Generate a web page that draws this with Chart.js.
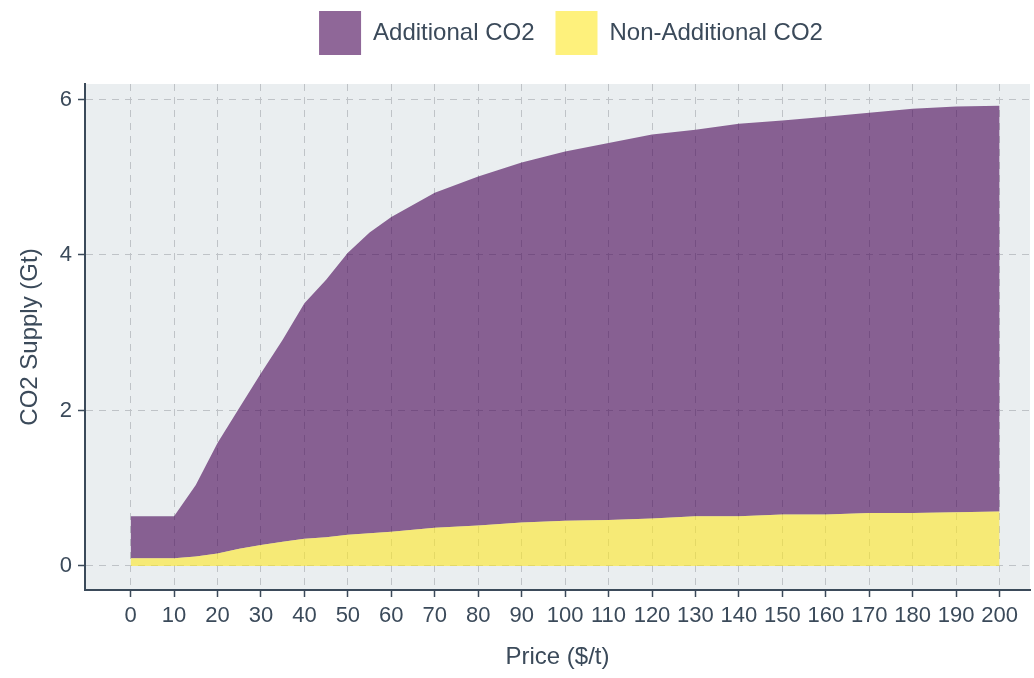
<!DOCTYPE html>
<html>
<head>
<meta charset="utf-8">
<script src="https://cdn.jsdelivr.net/npm/chart.js@4"></script>
<style>
  body { margin: 0; background: #fff; }
  #wrap { width: 1034px; height: 678px; }
</style>
</head>
<body>
<div id="wrap"><canvas id="supplyChart"></canvas></div>
<script>
// Price ($/t) on x, supply (Gt) stacked
const prices = [0, 10, 15, 20, 25, 30, 35, 40, 45, 50, 55, 60, 70, 80, 90, 100, 110, 120, 130, 140, 150, 160, 170, 180, 190, 200];
const nonAdditional = [0.10, 0.10, 0.12, 0.16, 0.22, 0.27, 0.31, 0.35, 0.37, 0.40, 0.42, 0.44, 0.49, 0.52, 0.56, 0.58, 0.59, 0.61, 0.64, 0.64, 0.66, 0.66, 0.68, 0.68, 0.69, 0.70];
const additional = [0.54, 0.54, 0.92, 1.42, 1.81, 2.21, 2.60, 3.03, 3.31, 3.63, 3.87, 4.05, 4.31, 4.49, 4.63, 4.75, 4.85, 4.94, 4.97, 5.05, 5.07, 5.12, 5.15, 5.20, 5.22, 5.22];
const xTicks = [0, 10, 20, 30, 40, 50, 60, 70, 80, 90, 100, 110, 120, 130, 140, 150, 160, 170, 180, 190, 200];
const yTicks = [0, 2, 4, 6];

const axisColor = '#3b4a5a';
const gridColor = '#bfc3c7';

Chart.defaults.font.family = '"Liberation Sans", Arial, sans-serif';
Chart.defaults.color = '#3b4a5a';

// grey panel behind the plot
const panelBg = {
    id: 'panelBg',
    beforeDraw(chart) {
        const a = chart.chartArea;
        const ctx = chart.ctx;
        ctx.save();
        ctx.fillStyle = '#eaeef0';
        ctx.fillRect(a.left, a.top, a.right - a.left, a.bottom - a.top);
        ctx.restore();
    }
};

// extra room under the legend, and centre it over the plot panel
const legendSpace = {
    id: 'legendSpace',
    beforeInit(chart) {
        const fit = chart.legend.fit;
        chart.legend.fit = function() {
            fit.bind(chart.legend)();
            this.height += 9;
        };
    },
    afterLayout(chart) {
        chart.legend.left += 56;
        chart.legend.right += 56;
        chart.legend.top -= 10;
    }
};

const ctx = document.getElementById('supplyChart').getContext('2d');
const supplyChart = new Chart(ctx, {
    type: 'line',
    data: {
        datasets: [
            {
                label: 'Non-Additional CO2',
                data: prices.map((p, i) => ({ x: p, y: nonAdditional[i] })),
                backgroundColor: 'rgba(253, 231, 37, 0.6)',
                borderWidth: 0,
                pointRadius: 0,
                fill: 'origin'
            },
            {
                label: 'Additional CO2',
                data: prices.map((p, i) => ({ x: p, y: additional[i] })),
                backgroundColor: 'rgba(68, 1, 84, 0.6)',
                borderWidth: 0,
                pointRadius: 0,
                fill: '-1'
            }
        ]
    },
    options: {
        responsive: true,
        maintainAspectRatio: false,
        animation: false,
        layout: { padding: { top: 0, right: 4, left: 0, bottom: 0 } },
        plugins: {
            legend: {
                position: 'top',
                reverse: true,
                labels: {
                    boxWidth: 42,
                    boxHeight: 44,
                    padding: 21,
                    font: { size: 24 },
                    color: '#3b4a5a'
                }
            },
            tooltip: { enabled: false }
        },
        scales: {
            x: {
                type: 'linear',
                min: -10.5,
                max: 207,
                afterBuildTicks: scale => { scale.ticks = xTicks.map(v => ({ value: v })); },
                afterFit: scale => { scale.height = 88; },
                ticks: { font: { size: 22 }, padding: 6, maxRotation: 0, autoSkip: false, color: '#3b4a5a' },
                grid: { color: gridColor, tickColor: axisColor, tickLength: 7, tickWidth: 1.5 },
                border: { color: axisColor, width: 2, dash: [7, 6] },
                title: { display: true, text: 'Price ($/t)', font: { size: 24 }, padding: { top: 0, bottom: 6 }, color: '#3b4a5a' }
            },
            y: {
                stacked: true,
                min: -0.31,
                max: 6.2,
                afterBuildTicks: scale => { scale.ticks = yTicks.map(v => ({ value: v })); },
                afterFit: scale => { scale.width = 85; },
                ticks: { font: { size: 22 }, padding: 6, color: '#3b4a5a' },
                grid: { color: gridColor, tickColor: axisColor, tickLength: 7, tickWidth: 1.5 },
                border: { color: axisColor, width: 2, dash: [7, 6] },
                title: { display: true, text: 'CO2 Supply (Gt)', font: { size: 24 }, padding: { top: 16, bottom: 0 }, color: '#3b4a5a' }
            }
        }
    },
    plugins: [panelBg, legendSpace]
});
</script>
</body>
</html>
